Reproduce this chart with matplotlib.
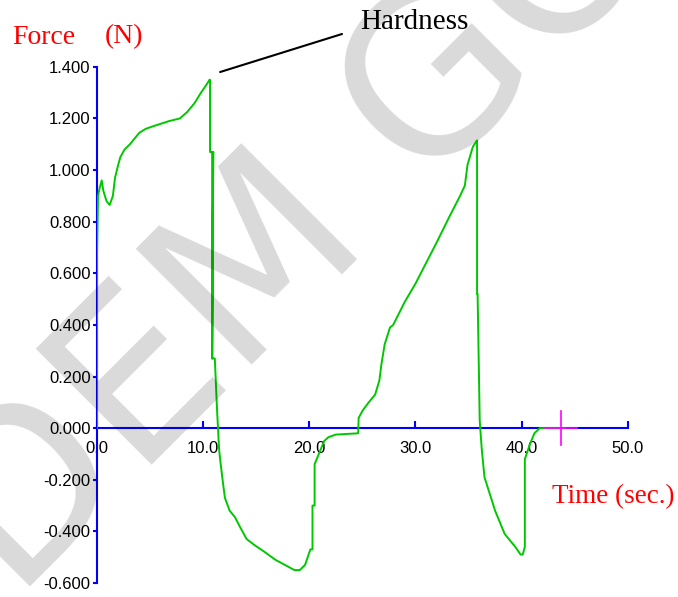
import numpy as np
import matplotlib
matplotlib.use('Agg')
import matplotlib.pyplot as plt

# texture analyser curve (time in s, force in N)
time_s = [0.0, 0.0, 0.1, 0.25, 0.45, 0.6, 0.9, 1.2, 1.5, 1.7, 2.0, 2.2, 2.6, 3.1,
          3.6, 4.0, 4.6, 5.3, 5.9, 6.8, 7.8, 8.5, 9.2, 9.8, 10.3, 10.6, 10.65,
          10.65, 10.85, 10.85, 10.95, 10.85, 11.1, 11.3, 11.4, 11.5, 11.6, 11.8,
          12.05, 12.5, 13.0, 13.5, 14.1, 14.9, 15.8, 16.8, 17.7, 18.6, 19.1,
          19.6, 20.1, 20.3, 20.3, 20.5, 20.5, 21.0, 21.4, 21.8, 22.5, 24.6,
          24.65, 25.05, 25.6, 26.2, 26.6, 26.8, 27.1, 27.6, 27.9, 29.0, 30.0,
          31.0, 32.0, 33.2, 34.2, 34.65, 34.9, 35.4, 35.8, 35.8, 35.85, 36.05,
          36.1, 36.25, 36.5, 37.0, 37.5, 38.4, 39.4, 39.9, 40.1, 40.3, 40.3,
          40.8, 41.2, 41.7, 44.1]
force_n = [0.0, 0.66, 0.90, 0.93, 0.96, 0.92, 0.88, 0.865, 0.90, 0.97, 1.02, 1.05,
           1.08, 1.10, 1.125, 1.145, 1.16, 1.17, 1.178, 1.19, 1.20, 1.225, 1.26,
           1.30, 1.33, 1.35, 1.35, 1.07, 1.07, 0.27, 1.07, 0.27, 0.27, 0.08, 0.0,
           -0.08, -0.12, -0.19, -0.27, -0.32, -0.345, -0.385, -0.43, -0.455,
           -0.48, -0.51, -0.53, -0.55, -0.55, -0.53, -0.47, -0.47, -0.30, -0.30,
           -0.14, -0.09, -0.05, -0.035, -0.025, -0.02, 0.04, 0.07, 0.10, 0.13,
           0.185, 0.25, 0.325, 0.39, 0.40, 0.49, 0.56, 0.64, 0.72, 0.82, 0.90,
           0.94, 1.02, 1.09, 1.115, 0.52, 0.52, 0.03, 0.0, -0.085, -0.19, -0.255,
           -0.32, -0.41, -0.46, -0.49, -0.49, -0.46, -0.12, -0.06, -0.02, 0.0, 0.0]

x_ticks = [0, 10, 20, 30, 40, 50]
y_ticks = [-0.6, -0.4, -0.2, 0.0, 0.2, 0.4, 0.6, 0.8, 1.0, 1.2, 1.4]
cursor = (43.7, 0.0)
peak = (11.6, 1.38)

fig = plt.figure(figsize=(6.78, 5.97), dpi=100)
ax = fig.add_axes([0.143, 0.0235, 0.783, 0.8645])

ax.plot(time_s, force_n, color='#00c800', lw=1.4, zorder=3)

# cursor cross at the end of the test
ax.plot([cursor[0] - 1.5, cursor[0] + 1.5], [cursor[1], cursor[1]], color='magenta', lw=1.2, zorder=4)
ax.plot([cursor[0], cursor[0]], [cursor[1] - 0.065, cursor[1] + 0.065], color='magenta', lw=1.2, zorder=4)

ax.set_xlim(0, 50)
ax.set_ylim(-0.6, 1.4)
for s in ['top', 'right']:
    ax.spines[s].set_visible(False)
ax.spines['bottom'].set_position(('data', 0))
ax.spines['left'].set_color('blue')
ax.spines['bottom'].set_color('blue')
ax.spines['left'].set_linewidth(1.5)
ax.spines['bottom'].set_linewidth(1.5)

ax.set_xticks(x_ticks)
ax.set_xticklabels(['%.1f' % v for v in x_ticks])
ax.set_yticks(y_ticks)
ax.set_yticklabels(['%.3f' % v for v in y_ticks])
ax.tick_params(axis='x', direction='in', length=5, width=1.5, color='blue',
               pad=9, labelsize=12)
ax.tick_params(axis='y', direction='out', length=3, width=1.5, color='blue',
               pad=1.5, labelsize=12)
for lab in ax.get_xticklabels() + ax.get_yticklabels():
    lab.set_family('Liberation Sans')

fig.text(12 / 678, 1 - 37 / 597, 'Force', color='red', family='Liberation Serif',
         fontsize=20, va='center', ha='left')
fig.text(105 / 678, 1 - 37 / 597, '(N)', color='red', family='Liberation Serif',
         fontsize=20, va='center', ha='left')
fig.text(552 / 678, 1 - 497 / 597, 'Time (sec.)', color='red', family='Liberation Serif',
         fontsize=19.5, va='center', ha='left')
fig.text(414 / 678, 1 - 22 / 597, 'Hardness', color='black', family='Liberation Serif',
         fontsize=21, va='center', ha='center')
ax.annotate('', xy=peak, xycoords='data', xytext=(342 / 678, 1 - 34 / 597),
            textcoords='figure fraction',
            arrowprops=dict(arrowstyle='-', color='black', lw=1.5, shrinkA=0, shrinkB=0))

# watermark
fig.text(245 / 678, 1 - 284 / 597, 'ADEM GO', color='black', alpha=0.15,
         fontsize=161, rotation=45, ha='center', va='center',
         rotation_mode='anchor', zorder=10)

fig.savefig('out.png', dpi=100)
